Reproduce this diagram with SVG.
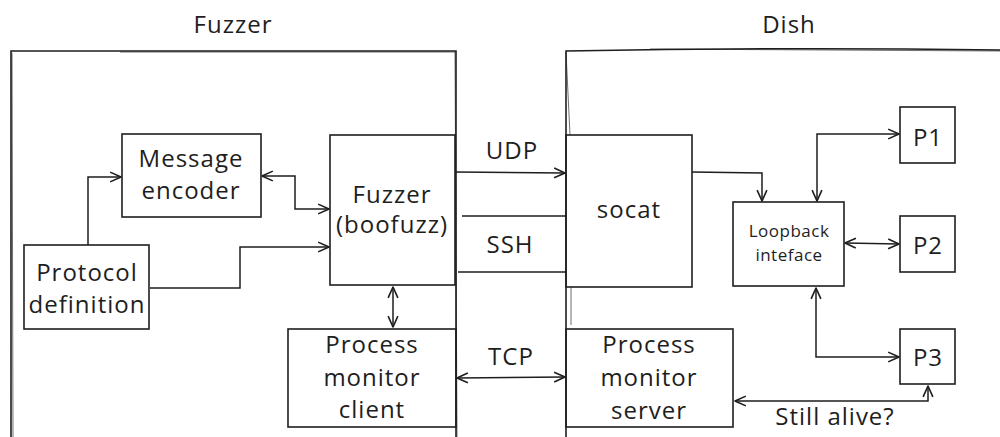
<svg xmlns="http://www.w3.org/2000/svg" width="1000" height="437" viewBox="0 0 1000 437">
<defs>
<marker id="arr" viewBox="0 0 12 12" refX="11" refY="6" markerWidth="13" markerHeight="13" markerUnits="userSpaceOnUse" orient="auto-start-reverse">
<path d="M1,1.5 L11,6 L1,10.5" fill="none" stroke="#1e1e1e" stroke-width="1.5" stroke-linejoin="round"/>
</marker>
</defs>
<style>
.box{fill:none;stroke:#1e1e1e;stroke-width:1.6}
.sk{fill:none;stroke:#1e1e1e;stroke-width:0.8;opacity:0.8}
.cn{fill:none;stroke:#1e1e1e;stroke-width:1.5}
.t{font-family:"Open Sans","Liberation Sans",sans-serif;font-size:24px;letter-spacing:1px;fill:#1e1e1e;text-anchor:middle}
.ts{font-family:"Open Sans","Liberation Sans",sans-serif;font-size:17px;letter-spacing:0.5px;fill:#1e1e1e;text-anchor:middle}
</style>
<rect width="1000" height="437" fill="#ffffff"/>

<g id="fuzzer-container">
<path class="box" d="M11,437 L11,51 L456,51 L456,437"/>
<path class="sk" d="M13,437 L12,53 M120,52 L455,52 M455,52 L457,437"/>
<text class="t" x="233" y="33">Fuzzer</text>
</g>

<g id="dish-container">
<path class="box" d="M566,437 L566,51 Q780,47 1000,50"/>
<path class="sk" d="M566,52 L570,135 M571,287 L571,325 M650,49 L1000,51"/>
<text class="t" x="789" y="33">Dish</text>
</g>

<g id="message-encoder">
<rect class="box" x="122" y="134" width="139" height="83"/>
<text class="t" x="191" y="167">Message</text>
<text class="t" x="191" y="199">encoder</text>
</g>

<g id="fuzzer-boofuzz">
<rect class="box" x="330" y="135" width="125" height="150"/>
<text class="t" x="392" y="203">Fuzzer</text>
<text class="t" x="392" y="233">(boofuzz)</text>
</g>

<g id="protocol-definition">
<rect class="box" x="24" y="245" width="125" height="84"/>
<text class="t" x="87" y="281">Protocol</text>
<text class="t" x="87" y="313">definition</text>
</g>

<g id="process-monitor-client">
<rect class="box" x="288" y="329" width="168" height="98"/>
<text class="t" x="372" y="353">Process</text>
<text class="t" x="372" y="386">monitor</text>
<text class="t" x="372" y="418">client</text>
</g>

<g id="socat">
<rect class="box" x="566" y="135" width="126" height="152"/>
<text class="t" x="629" y="218">socat</text>
</g>

<g id="loopback">
<rect class="box" x="733" y="202" width="111" height="84"/>
<text class="ts" x="789" y="237">Loopback</text>
<text class="ts" x="789" y="261">inteface</text>
</g>

<g id="p1">
<rect class="box" x="900" y="107" width="55" height="56"/>
<text class="t" x="928" y="146">P1</text>
</g>

<g id="p2">
<rect class="box" x="900" y="216" width="55" height="56"/>
<text class="t" x="928" y="254">P2</text>
</g>

<g id="p3">
<rect class="box" x="900" y="329" width="55" height="55"/>
<text class="t" x="928" y="366">P3</text>
</g>

<g id="process-monitor-server">
<rect class="box" x="566" y="329" width="167" height="98"/>
<text class="t" x="649" y="353">Process</text>
<text class="t" x="649" y="386">monitor</text>
<text class="t" x="649" y="419">server</text>
</g>

<g id="connectors">
<path class="cn" d="M88,245 L88,177 L121,177" marker-end="url(#arr)"/>
<path class="cn" d="M150,288 L240,288 L240,247 L329,247" marker-end="url(#arr)"/>
<path class="cn" d="M262,176 L295,176 L295,209 L329,209" marker-start="url(#arr)" marker-end="url(#arr)"/>
<path class="cn" d="M393,287 L393,327" marker-start="url(#arr)" marker-end="url(#arr)"/>
<path class="cn" d="M456,172 L565,173" marker-end="url(#arr)"/>
<path class="cn" d="M462,216 L566,216 M458,272 L566,272"/>
<path class="cn" d="M457,378 L565,377" marker-start="url(#arr)" marker-end="url(#arr)"/>
<path class="cn" d="M692,172 L762,173 L762,201" marker-end="url(#arr)"/>
<path class="cn" d="M817,201 L817,134 L899,134" marker-start="url(#arr)" marker-end="url(#arr)"/>
<path class="cn" d="M845,243 L899,244" marker-start="url(#arr)" marker-end="url(#arr)"/>
<path class="cn" d="M816,288 L816,357 L899,357" marker-start="url(#arr)" marker-end="url(#arr)"/>
<path class="cn" d="M735,401 L928,401 L928,386" marker-start="url(#arr)" marker-end="url(#arr)"/>
<text class="t" x="512" y="159">UDP</text>
<text class="t" x="510" y="253">SSH</text>
<text class="t" x="511" y="365">TCP</text>
<text class="t" x="835" y="425">Still alive?</text>
</g>
</svg>
